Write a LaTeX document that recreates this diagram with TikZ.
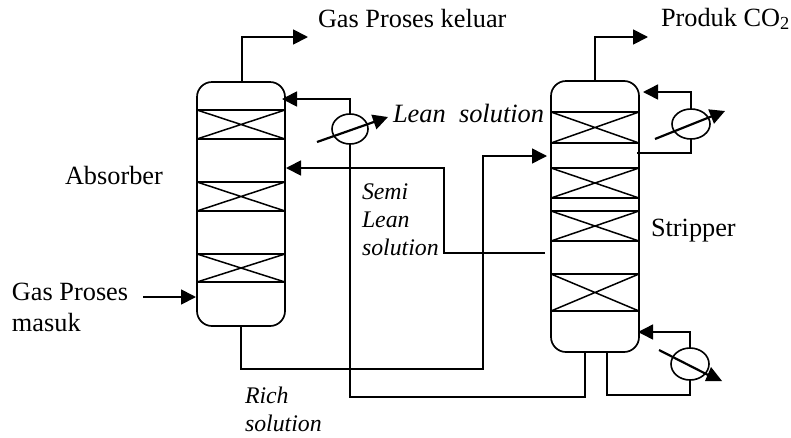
\documentclass[tikz,border=0pt]{standalone}
\usepackage{fontspec}
\setmainfont{Liberation Serif}
\usetikzlibrary{arrows.meta,shapes.geometric,calc}
\tikzset{
  x=1pt,y=-1pt,
  pipe/.style={line width=1.5pt,line join=miter},
  feed/.style={pipe,line width=1.8pt,-{Triangle[length=15pt,width=15pt]}},
  column/.style={draw,line width=1.7pt,rounded corners=15pt,minimum width=88pt,inner sep=0pt,outer sep=0pt},
  packing/.style={draw,line width=1.5pt,minimum width=88pt,inner sep=0pt,outer sep=0pt},
  hx/.style={draw,ellipse,line width=1.6pt,inner sep=0pt,outer sep=0pt,fill=none},
  tune/.style={line width=2.2pt,-{Triangle[length=15pt,width=15pt]}},
  lbl/.style={anchor=base west,inner sep=0pt,outer sep=0pt,font=\fontsize{26.3}{28}\selectfont},
  lbli/.style={lbl,font=\itshape\fontsize{26.4}{28}\selectfont},
  lbls/.style={lbl,font=\itshape\fontsize{23.8}{28}\selectfont},
}
\newcommand{\pack}[4]{% name, centre x, top y, bottom y
  \path let \n1={#4-#3} in node[packing,minimum height=\n1 pt,anchor=north] (#1) at (#2,#3) {};
  \draw[line width=1.5pt] (#1.north west) -- (#1.south east) (#1.north east) -- (#1.south west);
}
\begin{document}
\begin{tikzpicture}
\useasboundingbox (0,0) rectangle (791,437);
% columns
\node[column,minimum height=244pt,anchor=north] (abs) at (241,82) {};
\node[column,minimum height=271pt,anchor=north] (str) at (595,81) {};
% packings
\pack{a1}{241}{110}{139}
\pack{a2}{241}{182}{211}
\pack{a3}{241}{254}{282}
\pack{s1}{595}{112}{143}
\pack{s2}{595}{168}{198}
\pack{s3}{595}{211}{241}
\pack{s4}{595}{274}{311}
% exchangers
\node[hx,minimum width=36pt,minimum height=30pt] (hl) at (350,129) {};
\node[hx,minimum width=38pt,minimum height=30pt] (hc) at (691,124) {};
\node[hx,minimum width=38pt,minimum height=32pt] (hr) at (690,364) {};
% free ends
\coordinate (aTop) at (242,82);
\coordinate (aOut) at (308,37);
\coordinate (sTop) at (595,81);
\coordinate (sOut) at (648,37);
\coordinate (gIn) at (143,297);
\coordinate (gTip) at (196,297);
\coordinate (leanTip) at (282,99);
\coordinate (semiTip) at (286,168);
\coordinate (semiOut) at (545,253);
\coordinate (feedTip) at (547,156);
\coordinate (aBot) at (241,326);
\coordinate (sBotA) at (585,352);
\coordinate (sBotB) at (607,352);
\coordinate (condRet) at (643,92);
\coordinate (condOut) at (637,153);
\coordinate (rebRet) at (638,332);
% connectors
\draw[feed] (aTop) |- (aOut);
\draw[feed] (sTop) |- (sOut);
\draw[feed] (gIn) -- (gTip);
\draw[feed] (hl.north) |- (leanTip);
\draw[pipe] (hl.south) -- (350,397) -| (sBotA);
\draw[feed] (semiOut) -| (444,168) -- (semiTip);
\draw[feed,line width=1.5pt] (aBot) |- (483,369) |- (feedTip);
\draw[feed,line width=1.5pt] (hc.north) |- (condRet);
\draw[pipe] (hc.south) |- (condOut);
\draw[pipe] (sBotB) |- (690,395) -- (hr.south);
\draw[feed,line width=1.5pt] (hr.north) |- (rebRet);
% tuning arrows
\coordinate (t1a) at (317,142); \coordinate (t1b) at (388,117);
\coordinate (t2a) at (655,139); \coordinate (t2b) at (725,111);
\coordinate (t3a) at (659,350); \coordinate (t3b) at (716,379);
\draw[tune] (t1a) -- (t1b);
\draw[tune] (t2a) -- (t2b);
\draw[line width=2.2pt] (t3a) -- (t3b);
\fill (705,381) -- (722,381) -- (711,367) -- cycle;
% labels
\node[lbl] (l1) at (318,27) {Gas Proses keluar};
\node[lbl] (l2) at (661,26) {Produk CO\textsubscript{2}};
\node[lbl] (l3) at (65,184) {Absorber};
\node[lbl] (l4) at (651,236) {Stripper};
\node[lbl] (l5) at (12,300) {Gas Proses};
\node[lbl] (l6) at (12,331) {masuk};
\node[lbli] (l7) at (393,122) {Lean\ \ solution};
\node[lbls] (l8) at (362,199) {Semi};
\node[lbls] (l9) at (362,227) {Lean};
\node[lbls] (l10) at (362,255) {solution};
\node[lbls] (l11) at (245,403) {Rich};
\node[lbls] (l12) at (245,431) {solution};
\end{tikzpicture}
\end{document}
